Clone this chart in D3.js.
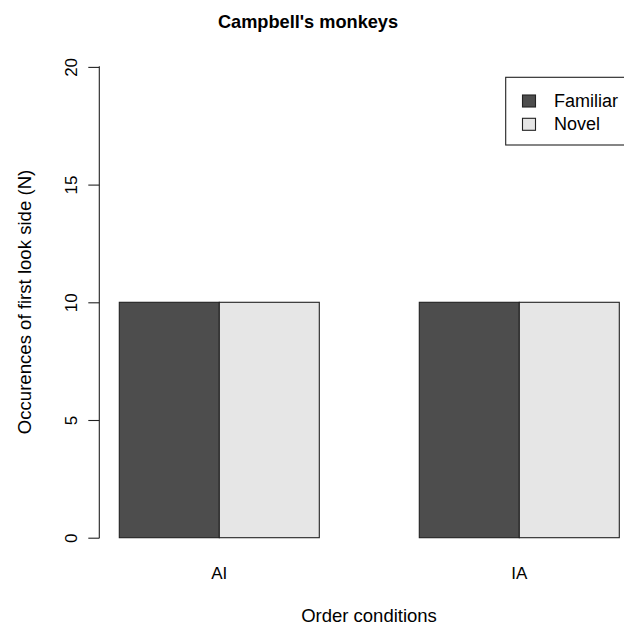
<!DOCTYPE html>
<html>
<head>
<meta charset="utf-8">
<script src="https://cdn.jsdelivr.net/npm/d3@7"></script>
<style>
  html, body { margin: 0; padding: 0; background: #fff; }
  svg { display: block; }
  text { font-family: "Liberation Sans", Arial, Helvetica, sans-serif; fill: #000; }
</style>
</head>
<body>
<script>
// ---- data ----
const categories = ["AI", "IA"];
const seriesNames = ["Familiar", "Novel"];
const familiarValues = [10, 10];
const novelValues = [10, 10];
const yTicks = [0, 5, 10, 15, 20];
const titleText = "Campbell's monkeys";
const xTitle = "Order conditions";
const yTitle = "Occurences of first look side (N)";

const seriesValues = [familiarValues, novelValues];
const colors = ["#4d4d4d", "#e6e6e6"];

const W = 624, H = 628;
const svg = d3.select("body").append("svg").attr("width", W).attr("height", H);

const y = d3.scaleLinear().domain([0, 20]).range([537.7, 66.9]);
const x0 = d3.scaleBand().domain(categories).range([119.3, 619.3]).paddingInner(1/3).paddingOuter(0);
const x1 = d3.scaleBand().domain(seriesNames).range([0, x0.bandwidth()]).padding(0);

// bars
const groups = svg.append("g").selectAll("g").data(categories).join("g")
  .attr("transform", d => `translate(${x0(d)},0)`);
groups.selectAll("rect")
  .data((c, i) => seriesNames.map((s, j) => ({ s, v: seriesValues[j][i], j })))
  .join("rect")
  .attr("x", d => x1(d.s))
  .attr("y", d => y(d.v))
  .attr("width", x1.bandwidth())
  .attr("height", d => y(0) - y(d.v))
  .attr("fill", d => colors[d.j])
  .attr("stroke", "#222")
  .attr("stroke-width", 1.1);

// y axis
const yAxis = d3.axisLeft(y).tickValues(yTicks).tickSize(11).tickPadding(0).tickFormat(d3.format("d"));
const ya = svg.append("g").attr("transform", "translate(99.3,0)").call(yAxis);
ya.select(".domain").attr("stroke", "#222").attr("stroke-width", 1.1)
  .attr("d", `M-0.5,${y(20)}H0V${y(0)}H-0.5`);
ya.selectAll(".tick line").attr("stroke", "#222").attr("stroke-width", 1.1);
ya.selectAll(".tick text")
  .attr("x", 0).attr("dy", null)
  .attr("transform", "translate(-22.5,0) rotate(-90)")
  .attr("text-anchor", "middle")
  .style("font-size", "17px")
  .attr("fill", "#000");

// x labels
svg.append("g").selectAll("text").data(categories).join("text")
  .attr("x", d => x0(d) + x0.bandwidth() / 2)
  .attr("y", 579)
  .attr("text-anchor", "middle")
  .style("font-size", "17px")
  .text(d => d);

// titles
svg.append("text").attr("x", 308).attr("y", 28)
  .attr("text-anchor", "middle").style("font-size", "18.2px").style("font-weight", "bold")
  .text(titleText);
svg.append("text").attr("x", 369).attr("y", 622)
  .attr("text-anchor", "middle").style("font-size", "18.5px")
  .text(xTitle);
svg.append("text").attr("transform", "translate(31,302) rotate(-90)")
  .attr("text-anchor", "middle").style("font-size", "18.6px")
  .text(yTitle);

// legend
const lg = svg.append("g");
lg.append("rect").attr("x", 505.7).attr("y", 77.3).attr("width", 140).attr("height", 67.7)
  .attr("fill", "#fff").attr("stroke", "#222").attr("stroke-width", 1.1);
const items = lg.selectAll("g.item").data(seriesNames).join("g").attr("class", "item")
  .attr("transform", (d, i) => `translate(0,${95 + i * 23.3})`);
items.append("rect").attr("x", 522.5).attr("y", 0).attr("width", 13).attr("height", 12)
  .attr("fill", (d, i) => colors[i]).attr("stroke", "#222").attr("stroke-width", 1.1);
items.append("text").attr("x", 554).attr("y", 12).style("font-size", "18px").text(d => d);
</script>
</body>
</html>
